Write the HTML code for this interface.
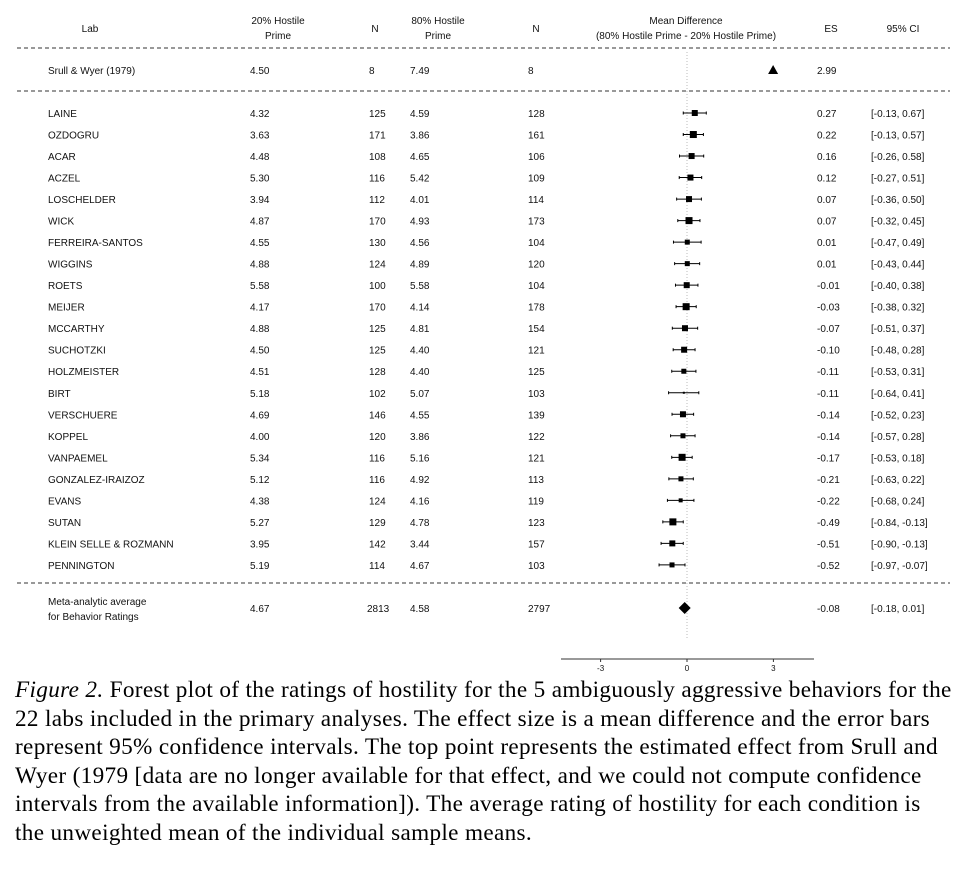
<!DOCTYPE html>
<html><head><meta charset="utf-8"><style>
body{margin:0;background:#fff;width:975px;height:872px;overflow:hidden;position:relative}
svg{position:absolute;left:0;top:0}
svg text{font-family:"Liberation Sans",Arial,sans-serif;font-size:10px;fill:#111}
#cap{position:absolute;left:15px;top:676px;width:960px;white-space:nowrap;font-family:"Liberation Serif","Times New Roman",serif;font-size:23.2px;letter-spacing:0.34px;line-height:28.6px;color:#000}
</style></head><body>
<svg id="chart" width="975" height="680"></svg>
<div id="cap"><i>Figure 2.</i> Forest plot of the ratings of hostility for the 5 ambiguously aggressive behaviors for the<br>22 labs included in the primary analyses. The effect size is a mean difference and the error bars<br>represent 95% confidence intervals. The top point represents the estimated effect from Srull and<br>Wyer (1979 [data are no longer available for that effect, and we could not compute confidence<br>intervals from the available information]). The average rating of hostility for each condition is<br>the unweighted mean of the individual sample means.</div>
<script>
const labs=["LAINE","OZDOGRU","ACAR","ACZEL","LOSCHELDER","WICK","FERREIRA-SANTOS","WIGGINS","ROETS","MEIJER","MCCARTHY","SUCHOTZKI","HOLZMEISTER","BIRT","VERSCHUERE","KOPPEL","VANPAEMEL","GONZALEZ-IRAIZOZ","EVANS","SUTAN","KLEIN SELLE & ROZMANN","PENNINGTON"];
const m20=["4.32","3.63","4.48","5.30","3.94","4.87","4.55","4.88","5.58","4.17","4.88","4.50","4.51","5.18","4.69","4.00","5.34","5.12","4.38","5.27","3.95","5.19"];
const n20=[125,171,108,116,112,170,130,124,100,170,125,125,128,102,146,120,116,116,124,129,142,114];
const m80=["4.59","3.86","4.65","5.42","4.01","4.93","4.56","4.89","5.58","4.14","4.81","4.40","4.40","5.07","4.55","3.86","5.16","4.92","4.16","4.78","3.44","4.67"];
const n80=[128,161,106,109,114,173,104,120,104,178,154,121,125,103,139,122,121,113,119,123,157,103];
const es=[0.27,0.22,0.16,0.12,0.07,0.07,0.01,0.01,-0.01,-0.03,-0.07,-0.10,-0.11,-0.11,-0.14,-0.14,-0.17,-0.21,-0.22,-0.49,-0.51,-0.52];
const lo=[-0.13,-0.13,-0.26,-0.27,-0.36,-0.32,-0.47,-0.43,-0.40,-0.38,-0.51,-0.48,-0.53,-0.64,-0.52,-0.57,-0.53,-0.63,-0.68,-0.84,-0.90,-0.97];
const hi=[0.67,0.57,0.58,0.51,0.50,0.45,0.49,0.44,0.38,0.32,0.37,0.28,0.31,0.41,0.23,0.28,0.18,0.22,0.24,-0.13,-0.13,-0.07];
const weight=[6,7,6,6,6,7,5,5,6,7,6,6,5,2,6,5,7,5,4,7,6,5];
const srullES=2.99, metaES=-0.08, metaLo=-0.18, metaHi=0.01;
const ticks=[-3,0,3];

const svg=document.getElementById('chart');const NS="http://www.w3.org/2000/svg";
const X=v=>687+v*28.8;
function el(t,a,txt){const e=document.createElementNS(NS,t);for(const k in a)e.setAttribute(k,a[k]);if(txt!==undefined)e.textContent=txt;svg.appendChild(e);return e;}
function tx(x,y,s,anchor,name){const e=el('text',{x:x,y:y,'text-anchor':anchor||'start'},s);

return e;}
const fmt=v=>(v<0?'-':'')+Math.abs(v).toFixed(2);
tx(90,32,"Lab","middle","header-lab");
tx(278,24,"20% Hostile","middle","header-20");tx(278,39,"Prime","middle","header-20");
tx(375,32,"N","middle","header-n1");
tx(438,24,"80% Hostile","middle","header-80");tx(438,39,"Prime","middle","header-80");
tx(536,32,"N","middle","header-n2");
tx(686,24,"Mean Difference","middle","header-md");tx(686,39,"(80% Hostile Prime - 20% Hostile Prime)","middle","header-md");
tx(831,32,"ES","middle","header-es");tx(903,32,"95% CI","middle","header-ci");
[48,91,583].forEach(y=>{const l=el('line',{x1:17,x2:950,y1:y,y2:y,stroke:'#333','stroke-dasharray':'4,3','stroke-width':1});

});
const zl=el('line',{x1:X(0),x2:X(0),y1:52,y2:640,stroke:'#bbb','stroke-dasharray':'1,2'});


tx(48,74,"Srull & Wyer (1979)","start","srull-label");tx(250,74,"4.50","start","srull-m20");tx(369,74,"8","start","srull-n20");
tx(410,74,"7.49","start","srull-m80");tx(528,74,"8","start","srull-n80");tx(817,74,"2.99","start","srull-es");
const tr=el('polygon',{points:`${X(srullES)-5},74 ${X(srullES)+5},74 ${X(srullES)},65`,fill:'#000'});


labs.forEach((lab,i)=>{const y=113+i*21.52,ty=y+4;
tx(48,ty,lab,"start","lab-name");tx(250,ty,m20[i],"start","mean-20");tx(369,ty,n20[i],"start","n-20");
tx(410,ty,m80[i],"start","mean-80");tx(528,ty,n80[i],"start","n-80");tx(817,ty,fmt(es[i]),"start","es-value");
tx(871,ty,"["+fmt(lo[i])+",  "+fmt(hi[i])+"]","start","ci-value");
const ln=el('line',{x1:X(lo[i]),x2:X(hi[i]),y1:y,y2:y,stroke:'#000','stroke-width':1});


[lo[i],hi[i]].forEach(v=>{const c=el('line',{x1:X(v),x2:X(v),y1:y-1.5,y2:y+1.5,stroke:'#000'});

});
const w=weight[i];const r=el('rect',{x:X(es[i])-w/2,y:y-w/2,width:w,height:w,fill:'#000'});

});
tx(48,605,"Meta-analytic average","start","meta-label");tx(48,620,"for Behavior Ratings","start","meta-label");
tx(250,612,"4.67","start","meta-m20");tx(367,612,"2813","start","meta-n20");tx(410,612,"4.58","start","meta-m80");tx(528,612,"2797","start","meta-n80");
tx(817,612,fmt(metaES),"start","meta-es");tx(871,612,"["+fmt(metaLo)+",  "+fmt(metaHi)+"]","start","meta-ci");
const d=el('polygon',{points:`${X(metaES)-6},608 ${X(metaES)},602 ${X(metaES)+6},608 ${X(metaES)},614`,fill:'#000'});


const ax=el('line',{x1:561,x2:814,y1:659,y2:659,stroke:'#333'});


ticks.forEach(t=>{const k=el('line',{x1:X(t),x2:X(t),y1:659,y2:662,stroke:'#333'});


const l=tx(X(t),671,String(t),"middle","x-tick-label");l.style.fontSize='8px';});
</script>
</body></html>
